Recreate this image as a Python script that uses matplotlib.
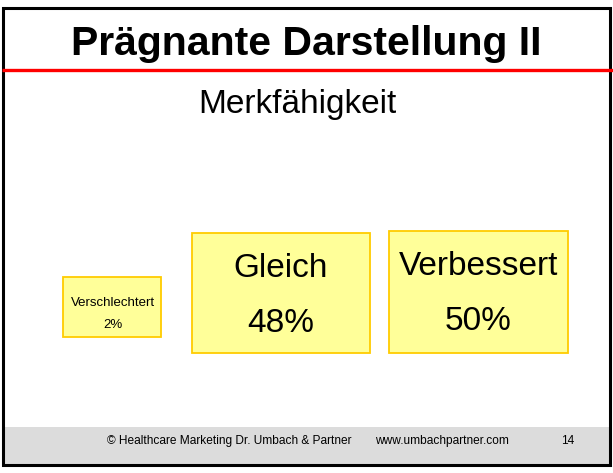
import matplotlib.pyplot as plt
from matplotlib.patches import Rectangle

plt.rcParams['font.family'] = ['Liberation Sans', 'DejaVu Sans']

# Daten
titel = 'Prägnante Darstellung II'
untertitel = 'Merkfähigkeit'
kategorien = ['Verschlechtert', 'Gleich', 'Verbessert']
anteile = [2, 48, 50]

# Layout der Kästen (Pixel: x, y oben, Breite, Höhe) und Schriftgrößen
kasten_x = [63, 192, 389]
kasten_y = [277, 233, 231]
kasten_b = [98, 178, 179]
kasten_h = [60, 120, 122]
schrift = [9.5, 24, 24]

fig = plt.figure(figsize=(6.13, 4.73), dpi=100)
ax = fig.add_axes([0, 0, 1, 1])
ax.set_xlim(0, 613)
ax.set_ylim(473, 0)
ax.axis('off')

# Fußzeile grau
ax.add_patch(Rectangle((3, 427), 607, 37, facecolor='#dcdcdc', edgecolor='none'))

# Rahmen
ax.add_patch(Rectangle((3, 8.5), 607, 456, facecolor='none', edgecolor='black', linewidth=2.2))

# rote Linie
ax.plot([2, 613], [70, 70], color='#ff0000', linewidth=2.4, solid_capstyle='butt')

ax.text(306, 55, titel, ha='center', va='baseline', fontsize=29.5, fontweight='bold')
ax.text(297, 113, untertitel, ha='center', va='baseline', fontsize=24)

for i, kat in enumerate(kategorien):
    x, y, b, h = kasten_x[i], kasten_y[i], kasten_b[i], kasten_h[i]
    ax.add_patch(Rectangle((x, y), b, h, facecolor='#ffff99', edgecolor='#ffcc00', linewidth=1.3))
    cx = x + b / 2
    if i == 0:
        ax.text(cx + 1, y + 26, kat, ha='center', va='center', fontsize=schrift[i])
        ax.text(cx + 1, y + 48, f'{anteile[i]}%', ha='center', va='center', fontsize=schrift[i])
    else:
        ax.text(cx, y + 35, kat, ha='center', va='center', fontsize=schrift[i])
        ax.text(cx, y + 90, f'{anteile[i]}%', ha='center', va='center', fontsize=schrift[i])

ax.text(107, 441, '© Healthcare Marketing Dr. Umbach & Partner', ha='left', va='center', fontsize=8.6)
ax.text(375, 441, 'www.umbachpartner.com', ha='left', va='center', fontsize=8.6)
ax.text(568, 441, '14', ha='center', va='center', fontsize=8.6)

fig.savefig('out.png', dpi=100)
